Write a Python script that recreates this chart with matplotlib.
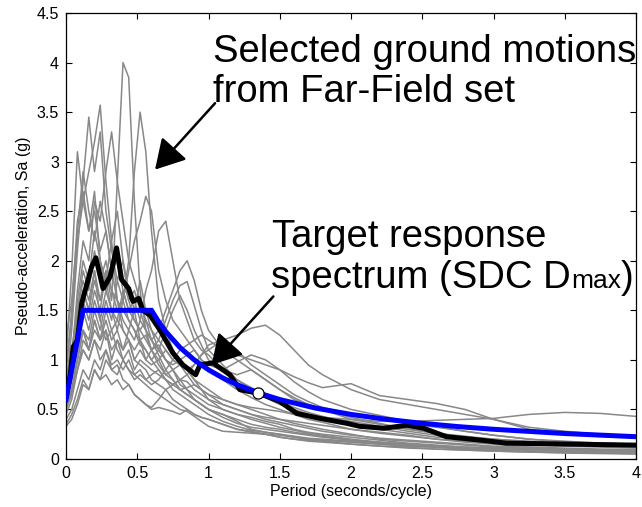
import matplotlib
matplotlib.use("Agg")
import matplotlib.pyplot as plt
from matplotlib.patches import FancyArrowPatch

plt.rcParams['font.family'] = ['Liberation Sans', 'DejaVu Sans']

# ---------------- data ----------------
periods = [0.00, 0.04, 0.08, 0.12, 0.16, 0.20, 0.24, 0.28, 0.32, 0.36, 0.40, 0.44, 0.48, 0.52, 0.56, 0.60,
           0.65, 0.70, 0.75, 0.80, 0.85, 0.90, 0.95, 1.00,
           1.10, 1.20, 1.30, 1.40, 1.50, 1.60, 1.70, 1.80,
           2.00, 2.20, 2.40, 2.60, 2.80, 3.00,
           3.25, 3.50, 3.75, 4.00]

gm_A = [0.60, 0.85, 1.3, 1.6, 1.4, 1.7, 1.5, 1.9, 1.6, 2.8, 4.0, 3.85, 2.6, 1.7, 1.3, 1.1,
        0.95, 0.85, 0.9, 0.75, 0.7, 0.6, 0.55, 0.5,
        0.45, 0.38, 0.3, 0.27, 0.25, 0.22, 0.2, 0.19,
        0.17, 0.15, 0.13, 0.12, 0.11, 0.10,
        0.09, 0.08, 0.07, 0.065]
gm_B = [0.75, 1.0, 1.5, 1.8, 1.6, 1.9, 1.4, 1.7, 1.5, 1.3, 1.6, 2.0, 2.9, 3.5, 3.1, 2.3,
        1.6, 1.3, 1.1, 1.0, 0.9, 0.8, 0.75, 0.7,
        0.6, 0.55, 0.5, 0.45, 0.4, 0.36, 0.33, 0.3,
        0.25, 0.2, 0.18, 0.16, 0.14, 0.12,
        0.11, 0.1, 0.09, 0.085]
gm_C = [0.9, 1.4, 2.2, 2.6, 2.9, 3.2, 3.57, 2.8, 2.2, 2.5, 2.0, 1.7, 1.5, 1.8, 1.5, 1.3,
        1.1, 1.0, 0.9, 0.8, 0.7, 0.65, 0.6, 0.55,
        0.5, 0.45, 0.4, 0.36, 0.32, 0.29, 0.26, 0.24,
        0.2, 0.17, 0.15, 0.13, 0.12, 0.11,
        0.1, 0.09, 0.08, 0.075]
gm_D = [0.7, 1.3, 2.1, 2.8, 3.45, 2.9, 3.3, 2.5, 2.1, 1.8, 2.0, 1.6, 1.4, 1.3, 1.2, 1.1,
        1.0, 0.85, 0.8, 0.7, 0.65, 0.6, 0.55, 0.5,
        0.45, 0.4, 0.35, 0.32, 0.3, 0.27, 0.25, 0.23,
        0.19, 0.16, 0.14, 0.12, 0.11, 0.1,
        0.09, 0.08, 0.075, 0.07]
gm_E = [1.0, 1.9, 3.1, 2.6, 2.3, 2.7, 2.0, 1.8, 2.2, 1.6, 1.3, 1.2, 1.0, 0.95, 0.9, 0.8,
        0.75, 0.7, 0.6, 0.55, 0.5, 0.45, 0.42, 0.4,
        0.35, 0.3, 0.27, 0.25, 0.22, 0.2, 0.19, 0.18,
        0.15, 0.13, 0.11, 0.1, 0.09, 0.08,
        0.07, 0.065, 0.06, 0.055]
gm_F = [0.5, 0.7, 1.0, 1.3, 1.2, 1.5, 1.3, 1.6, 1.4, 1.8, 1.6, 1.9, 2.2, 2.4, 2.65, 2.5,
        1.9, 1.6, 1.4, 1.3, 1.2, 1.1, 1.0, 0.9,
        0.8, 0.7, 0.62, 0.55, 0.5, 0.45, 0.4, 0.37,
        0.3, 0.26, 0.23, 0.2, 0.18, 0.16,
        0.14, 0.13, 0.12, 0.11]
gm_G = [0.55, 0.8, 1.1, 1.3, 1.1, 1.4, 1.2, 1.5, 1.3, 1.4, 1.7, 1.5, 1.6, 1.4, 1.7, 1.9,
        2.3, 2.4, 2.0, 1.6, 1.4, 1.2, 1.1, 1.05,
        0.9, 0.8, 0.72, 0.65, 0.58, 0.52, 0.47, 0.43,
        0.36, 0.3, 0.26, 0.22, 0.2, 0.18,
        0.16, 0.14, 0.13, 0.12]
gm_H = [0.45, 0.6, 0.9, 1.1, 1.0, 1.2, 1.1, 1.3, 1.0, 1.2, 1.1, 1.3, 1.2, 1.4, 1.3, 1.2,
        1.3, 1.5, 1.7, 1.9, 2.0, 1.8, 1.5, 1.3,
        1.1, 1.0, 0.9, 0.8, 0.7, 0.62, 0.55, 0.5,
        0.4, 0.35, 0.3, 0.26, 0.22, 0.2,
        0.18, 0.16, 0.15, 0.14]
gm_I = [0.6, 0.9, 1.4, 1.7, 1.5, 1.9, 1.6, 1.8, 1.5, 1.4, 1.3, 1.2, 1.1, 1.2, 1.0, 1.1,
        1.2, 1.4, 1.6, 1.75, 1.79, 1.55, 1.3, 1.1,
        0.95, 0.8, 0.7, 0.62, 0.55, 0.5, 0.45, 0.42,
        0.38, 0.33, 0.28, 0.24, 0.2, 0.18,
        0.16, 0.15, 0.14, 0.13]
gm_J = [0.7, 1.0, 1.6, 2.0, 1.8, 2.3, 2.0, 1.7, 1.9, 1.6, 1.4, 1.3, 1.5, 1.2, 1.1, 1.0,
        1.1, 1.3, 1.5, 1.65, 1.5, 1.3, 1.15, 1.0,
        0.9, 0.85, 0.9, 0.8, 0.7, 0.6, 0.55, 0.5,
        0.42, 0.36, 0.3, 0.26, 0.23, 0.2,
        0.17, 0.15, 0.14, 0.13]
gm_K = [0.4, 0.5, 0.7, 0.9, 0.8, 1.0, 0.9, 1.1, 0.95, 1.0, 0.9, 1.0, 0.85, 0.9, 0.8, 0.85,
        0.9, 0.8, 0.75, 0.8, 0.85, 0.95, 1.05, 1.1,
        1.2, 1.25, 1.32, 1.35, 1.25, 1.1, 0.95, 0.85,
        0.7, 0.6, 0.55, 0.5, 0.45, 0.4,
        0.32, 0.28, 0.25, 0.22]
gm_L = [0.35, 0.45, 0.6, 0.8, 0.7, 0.9, 0.8, 1.0, 0.9, 0.85, 1.0, 0.9, 0.8, 0.85, 0.8, 0.75,
        0.8, 0.9, 1.0, 1.1, 1.15, 1.2, 1.25, 1.2,
        1.1, 1.05, 1.0, 0.95, 0.9, 0.83, 0.77, 0.72,
        0.76, 0.64, 0.6, 0.56, 0.5, 0.4,
        0.3, 0.26, 0.24, 0.22]
gm_M = [0.5, 0.7, 1.0, 1.3, 1.1, 1.4, 1.2, 1.3, 1.1, 1.2, 1.0, 1.1, 0.9, 1.0, 0.95, 0.9,
        0.85, 0.8, 0.75, 0.7, 0.72, 0.75, 0.7, 0.65,
        0.6, 0.55, 0.52, 0.5, 0.48, 0.45, 0.43, 0.42,
        0.4, 0.38, 0.38, 0.39, 0.4, 0.41,
        0.45, 0.47, 0.46, 0.43]
gm_N = [0.33, 0.4, 0.55, 0.75, 0.7, 0.9, 0.8, 0.85, 0.75, 0.8, 0.7, 0.75, 0.65, 0.6, 0.55, 0.5,
        0.52, 0.5, 0.48, 0.45, 0.5, 0.45, 0.42, 0.4,
        0.35, 0.3, 0.28, 0.25, 0.22, 0.2, 0.18, 0.17,
        0.15, 0.13, 0.12, 0.1, 0.09, 0.08,
        0.07, 0.06, 0.055, 0.05]
gm_O = [0.55, 0.7, 0.9, 1.1, 1.0, 1.2, 1.0, 1.1, 0.9, 0.95, 0.8, 0.75, 0.65, 0.6, 0.55, 0.52,
        0.6, 0.7, 0.75, 0.8, 0.78, 0.7, 0.65, 0.6,
        0.55, 0.5, 0.45, 0.42, 0.4, 0.38, 0.36, 0.34,
        0.3, 0.27, 0.24, 0.2, 0.17, 0.15,
        0.12, 0.1, 0.09, 0.08]
gm_P = [0.8, 1.1, 1.5, 1.9, 1.7, 2.1, 1.8, 2.0, 1.7, 1.6, 1.5, 1.4, 1.3, 1.15, 1.1, 1.0,
        0.9, 0.8, 0.7, 0.65, 0.6, 0.55, 0.5, 0.45,
        0.38, 0.33, 0.29, 0.27, 0.25, 0.23, 0.21, 0.2,
        0.18, 0.16, 0.14, 0.12, 0.1, 0.09,
        0.08, 0.07, 0.06, 0.055]
gm_Q = [1.2, 1.6, 2.3, 2.9, 2.5, 2.2, 2.6, 2.3, 1.9, 2.0, 1.7, 1.5, 1.4, 1.3, 1.4, 1.2,
        1.1, 1.0, 0.9, 0.95, 0.9, 0.8, 0.7, 0.6,
        0.5, 0.45, 0.42, 0.38, 0.35, 0.3, 0.27, 0.25,
        0.22, 0.19, 0.16, 0.14, 0.12, 0.11,
        0.1, 0.09, 0.085, 0.08]
gm_R = [0.5, 0.65, 0.9, 1.2, 1.1, 1.3, 1.2, 1.4, 1.2, 1.3, 1.1, 1.2, 1.0, 1.1, 1.0, 0.95,
        1.0, 1.1, 1.0, 0.95, 0.9, 0.95, 1.05, 1.15,
        1.2, 1.1, 0.95, 0.85, 0.75, 0.65, 0.58, 0.52,
        0.45, 0.4, 0.36, 0.32, 0.28, 0.24,
        0.2, 0.18, 0.16, 0.15]
gm_S = [0.65, 1.0, 1.7, 2.2, 2.0, 2.6, 2.4, 2.9, 3.3, 2.8, 2.4, 2.0, 1.8, 1.6, 1.4, 1.3,
        1.2, 1.1, 1.0, 0.95, 0.85, 0.75, 0.7, 0.65,
        0.55, 0.5, 0.45, 0.4, 0.37, 0.34, 0.31, 0.28,
        0.24, 0.21, 0.19, 0.17, 0.15, 0.13,
        0.12, 0.11, 0.1, 0.095]
gm_U = [0.9, 1.5, 2.4, 2.7, 2.3, 2.5, 2.1, 2.3, 1.9, 2.1, 1.8, 1.6, 1.7, 1.5, 1.3, 1.2,
        1.05, 0.9, 0.8, 0.7, 0.65, 0.6, 0.55, 0.5,
        0.42, 0.36, 0.32, 0.3, 0.28, 0.26, 0.24, 0.22,
        0.19, 0.17, 0.15, 0.13, 0.11, 0.1,
        0.09, 0.085, 0.08, 0.075]
gm_V = [0.6, 0.8, 1.2, 1.5, 1.3, 1.6, 1.4, 1.2, 1.3, 1.1, 1.0, 0.9, 0.85, 0.8, 0.75, 0.7,
        0.65, 0.6, 0.55, 0.5, 0.48, 0.43, 0.38, 0.33,
        0.28, 0.27, 0.26, 0.25, 0.24, 0.22, 0.2, 0.19,
        0.17, 0.15, 0.13, 0.12, 0.1, 0.09,
        0.08, 0.07, 0.065, 0.06]
gm_W = [0.7, 0.95, 1.4, 1.7, 1.5, 1.8, 1.6, 1.9, 1.7, 1.5, 1.6, 1.4, 1.3, 1.2, 1.25, 1.1,
        1.15, 1.0, 0.95, 1.0, 1.05, 1.1, 1.0, 0.95,
        0.9, 0.98, 1.05, 1.0, 0.9, 0.78, 0.68, 0.6,
        0.5, 0.44, 0.38, 0.33, 0.28, 0.24,
        0.2, 0.17, 0.15, 0.14]

ground_motions = [gm_A, gm_B, gm_C, gm_D, gm_E, gm_F, gm_G, gm_H, gm_I, gm_J, gm_K,
                  gm_L, gm_M, gm_N, gm_O, gm_P, gm_Q, gm_R, gm_S, gm_U, gm_V, gm_W]

median_T = [0.0, 0.03, 0.05, 0.08, 0.11, 0.18, 0.21, 0.26, 0.31, 0.355, 0.39, 0.44, 0.47, 0.51,
            0.54, 0.59, 0.66, 0.75, 0.82, 0.91, 0.94, 1.03, 1.15, 1.22, 1.36, 1.50, 1.62,
            1.78, 1.97, 2.06, 2.23, 2.39, 2.51, 2.67, 2.91, 3.09, 3.55, 4.0]
median_Sa = [0.62, 0.85, 1.13, 1.2, 1.57, 1.94, 2.03, 1.72, 1.84, 2.13, 1.81, 1.72, 1.59, 1.62,
             1.50, 1.45, 1.30, 1.07, 0.95, 0.85, 0.95, 0.97, 0.85, 0.70, 0.66, 0.58, 0.46,
             0.41, 0.36, 0.33, 0.31, 0.34, 0.31, 0.225, 0.19, 0.16, 0.15, 0.14]

target_T = [0.0, 0.12, 0.6, 0.65, 0.7, 0.8, 0.9, 1.0, 1.1, 1.2, 1.35, 1.5, 1.75, 2.0, 2.25,
            2.5, 2.75, 3.0, 3.5, 4.0]
target_Sa = [0.6, 1.5, 1.5, 1.385, 1.286, 1.125, 1.0, 0.9, 0.818, 0.75, 0.667, 0.6, 0.514,
             0.45, 0.4, 0.36, 0.327, 0.3, 0.257, 0.225]

marker_T = [1.35]
marker_Sa = [0.667]

x_ticks = [0, 0.5, 1, 1.5, 2, 2.5, 3, 3.5, 4]
x_tick_labels = ['0', '0.5', '1', '1.5', '2', '2.5', '3', '3.5', '4']
y_ticks = [0, 0.5, 1, 1.5, 2, 2.5, 3, 3.5, 4, 4.5]
y_tick_labels = ['0', '0.5', '1', '1.5', '2', '2.5', '3', '3.5', '4', '4.5']

# ---------------- figure ----------------
W, H = 642, 507
fig = plt.figure(figsize=(W / 100, H / 100), dpi=100)
ax = fig.add_axes([66 / W, (H - 459) / H, (636 - 66) / W, (459 - 13) / H])

for gm in ground_motions:
    ax.plot(periods, gm, color='#888888', lw=1.1, zorder=2)

ax.plot(median_T, median_Sa, color='black', lw=3.6, solid_joinstyle='round',
        solid_capstyle='round', zorder=3)
ax.plot(target_T, target_Sa, color='#0000ff', lw=3.6, solid_joinstyle='miter', zorder=4)
ax.plot(marker_T, marker_Sa, 'o', ms=8, mfc='white', mec='black', mew=0.9, zorder=5)

ax.set_xlim(0, 4)
ax.set_ylim(0, 4.5)
ax.set_xticks(x_ticks)
ax.set_xticklabels(x_tick_labels)
ax.set_yticks(y_ticks)
ax.set_yticklabels(y_tick_labels)
ax.tick_params(direction='in', top=True, right=True, length=4, width=0.8,
               labelsize=11.5, pad=5, colors='black')
for s in ax.spines.values():
    s.set_linewidth(0.9)
ax.set_xlabel('Period (seconds/cycle)', fontsize=11.5, labelpad=2)
ax.set_ylabel('Pseudo-acceleration, Sa (g)', fontsize=11.5, labelpad=4)

# annotations
FS = 27.5
ax.text(1.035, 4.005, 'Selected ground motions', fontsize=FS, ha='left', va='baseline', zorder=6)
ax.text(1.035, 3.60, 'from Far-Field set', fontsize=FS, ha='left', va='baseline', zorder=6)
ax.text(1.448, 2.14, 'Target response', fontsize=FS, ha='left', va='baseline', zorder=6)
t2 = ax.text(1.44, 1.725, 'spectrum (SDC D', fontsize=FS, ha='left', va='baseline', zorder=6)
fig.canvas.draw()
bb = t2.get_window_extent()
x_end = ax.transData.inverted().transform((bb.x1, bb.y0))[0]
t3 = ax.text(x_end, 1.725, 'max', fontsize=19, ha='left', va='baseline', zorder=6)
fig.canvas.draw()
bb3 = t3.get_window_extent()
x_end3 = ax.transData.inverted().transform((bb3.x1, bb3.y0))[0]
ax.text(x_end3, 1.725, ')', fontsize=FS, ha='left', va='baseline', zorder=6)

for (xs, ys), (xe, ye) in [((1.046, 3.59), (0.625, 2.92)), ((1.455, 1.64), (1.022, 0.95))]:
    arr = FancyArrowPatch((xs, ys), (xe, ye), arrowstyle='-|>,head_length=0.9,head_width=0.52',
                          mutation_scale=20, color='black', lw=1.8, shrinkA=0, shrinkB=0,
                          zorder=7)
    ax.add_patch(arr)

fig.savefig('out.png', dpi=100)
